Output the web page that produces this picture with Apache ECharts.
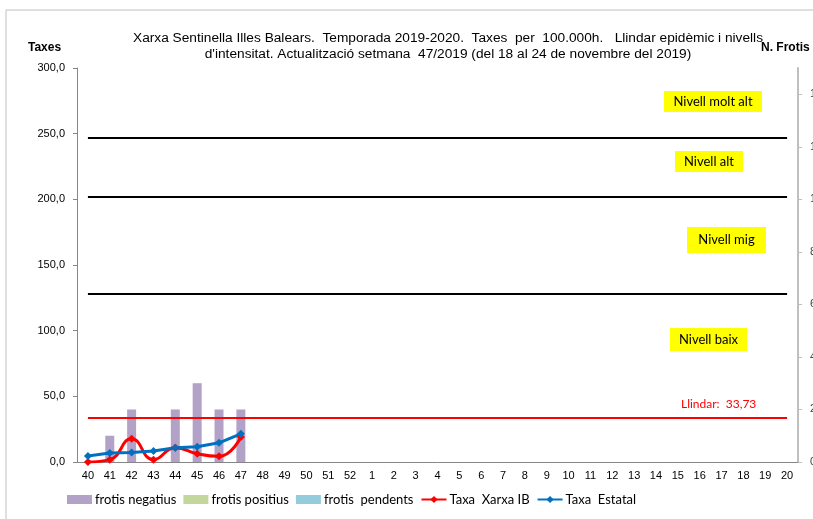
<!DOCTYPE html>
<html>
<head>
<meta charset="utf-8">
<script src="https://cdn.jsdelivr.net/npm/echarts@6/dist/echarts.min.js"></script>
<style>
html, body { margin: 0; padding: 0; background: #fff; }
#chart { width: 813px; height: 519px; }
</style>
</head>
<body>
<div id="chart"></div>
<script>
var setmanes = ['40','41','42','43','44','45','46','47','48','49','50','51','52',
	'1','2','3','4','5','6','7','8','9','10','11','12','13','14','15','16','17','18','19','20'];
var frotisNegatius = [0, 1, 2, 0, 2, 3, 2, 2];
var frotisPositius = [0, 0, 0, 0, 0, 0, 0, 0];
var frotisPendents = [0, 0, 0, 0, 0, 0, 0, 0];
var taxaXarxaIB = [0.0, 1.8, 17.7, 1.8, 10.9, 6.3, 4.3, 19.0];
var taxaEstatal = [4.5, 6.8, 7.3, 8.3, 10.9, 11.6, 14.6, 21.5];
var llindar = 33.73;
var nivells = [127.9, 202.0, 247.2];

var myChart = echarts.init(document.getElementById('chart'));

function coma(v) {
	return v.toFixed(1).replace('.', ',');
}

function hLine(v, color) {
	return [
		{ coord: [setmanes[0], v], lineStyle: { color: color, width: 2, type: 'solid' } },
		{ coord: [setmanes[setmanes.length - 1], v] }
	];
}

function etiqueta(text, x, y, w, h) {
	return {
		type: 'group',
		left: x, top: y,
		children: [
			{ type: 'rect', shape: { x: 0, y: 0, width: w, height: h }, style: { fill: '#ffff00' } },
			{ type: 'text', x: w / 2, y: h / 2, style: { text: text, fill: '#000', font: '13px Lato, sans-serif', align: 'center', verticalAlign: 'middle' } }
		]
	};
}

var option = {
	animation: false,
	title: {
		text: 'Xarxa Sentinella Illes Balears.  Temporada 2019-2020.  Taxes  per  100.000h.   Llindar epidèmic i nivells\nd\'intensitat. Actualització setmana  47/2019 (del 18 al 24 de novembre del 2019)',
		left: 443,
		top: 25,
		textAlign: 'center',
		textStyle: {
			fontFamily: '"Liberation Sans", Arial, sans-serif',
			fontSize: 13.7,
			fontWeight: 'normal',
			color: '#000',
			lineHeight: 16
		}
	},
	graphic: [
		{ type: 'rect', shape: { x: 6, y: 10, width: 820, height: 520 }, style: { fill: 'none', stroke: '#c0c0c0', lineWidth: 1 } },
		{ type: 'text', left: 28, top: 42, style: { text: 'Taxes', font: 'bold 12px "Liberation Sans", Arial, sans-serif', fill: '#000' } },
		{ type: 'text', left: 761, top: 42, style: { text: 'N. Frotis', font: 'bold 12px "Liberation Sans", Arial, sans-serif', fill: '#000' } },
		etiqueta('Nivell molt alt', 664, 91, 98, 21),
		etiqueta('Nivell alt', 675, 151, 68, 21),
		etiqueta('Nivell mig', 687, 227, 79, 26),
		etiqueta('Nivell baix', 670, 328, 77, 23),
		{ type: 'text', left: 681, top: 398, style: { text: 'Llindar:  33,73', font: '12px Lato, sans-serif', fill: '#ff0000' } }
	],
	legend: {
		bottom: 8,
		left: 62,
		itemWidth: 25,
		itemHeight: 9,
		itemGap: 7,
		textStyle: { fontFamily: 'Lato, sans-serif', fontSize: 13, color: '#000', padding: [0, 0, 0, -2] },
		data: [
			{ name: 'frotis negatius', icon: 'rect' },
			{ name: 'frotis positius', icon: 'rect' },
			{ name: 'frotis  pendents', icon: 'rect' },
			'Taxa  Xarxa IB',
			'Taxa  Estatal'
		]
	},
	grid: {
		left: 77,
		right: 15,
		top: 68,
		bottom: 57,
		outerBoundsMode: 'none'
	},
	xAxis: {
		type: 'category',
		data: setmanes,
		boundaryGap: true,
		axisLine: { lineStyle: { color: '#868686' } },
		axisTick: { alignWithLabel: false, length: 4, lineStyle: { color: '#868686' } },
		axisLabel: { color: '#000', fontFamily: '"Liberation Sans", Arial, sans-serif', fontSize: 11, interval: 0, margin: 8 }
	},
	yAxis: [{
		type: 'value',
		min: 0,
		max: 300,
		interval: 50,
		splitLine: { show: false },
		axisLine: { show: true, lineStyle: { color: '#868686' } },
		axisTick: { show: true, length: 4, lineStyle: { color: '#868686' } },
		axisLabel: { color: '#000', fontFamily: '"Liberation Sans", Arial, sans-serif', fontSize: 11, margin: 12, formatter: coma }
	}, {
		type: 'value',
		min: 0,
		max: 15,
		interval: 2,
		position: 'right',
		splitLine: { show: false },
		axisLine: { show: true, lineStyle: { color: '#bfbfbf', width: 2 } },
		axisTick: { show: true, length: 4, lineStyle: { color: '#bfbfbf' } },
		axisLabel: { color: '#404040', fontFamily: '"Liberation Sans", Arial, sans-serif', fontSize: 11, showMaxLabel: false, margin: 12 }
	}],
	series: [{
		name: 'frotis negatius',
		type: 'bar',
		yAxisIndex: 1,
		stack: 'frotis',
		barWidth: 9,
		itemStyle: { color: '#b3a2c7' },
		data: frotisNegatius
	}, {
		name: 'frotis positius',
		type: 'bar',
		yAxisIndex: 1,
		stack: 'frotis',
		barWidth: 9,
		itemStyle: { color: '#c3d69b' },
		data: frotisPositius
	}, {
		name: 'frotis  pendents',
		type: 'bar',
		yAxisIndex: 1,
		stack: 'frotis',
		barWidth: 9,
		itemStyle: { color: '#93cddd' },
		data: frotisPendents
	}, {
		name: 'Taxa  Xarxa IB',
		type: 'line',
		smooth: true,
		symbol: 'diamond',
		symbolSize: 8,
		lineStyle: { color: '#ff0000', width: 3 },
		itemStyle: { color: '#ff0000' },
		data: taxaXarxaIB,
		markLine: {
			silent: true,
			symbol: 'none',
			label: { show: false },
			data: [
				hLine(llindar, '#ff0000'),
				hLine(nivells[0], '#000'),
				hLine(nivells[1], '#000'),
				hLine(nivells[2], '#000')
			]
		}
	}, {
		name: 'Taxa  Estatal',
		type: 'line',
		symbol: 'diamond',
		symbolSize: 8,
		lineStyle: { color: '#0070c0', width: 3 },
		itemStyle: { color: '#0070c0' },
		data: taxaEstatal
	}]
};
myChart.setOption(option);
</script>
</body>
</html>
